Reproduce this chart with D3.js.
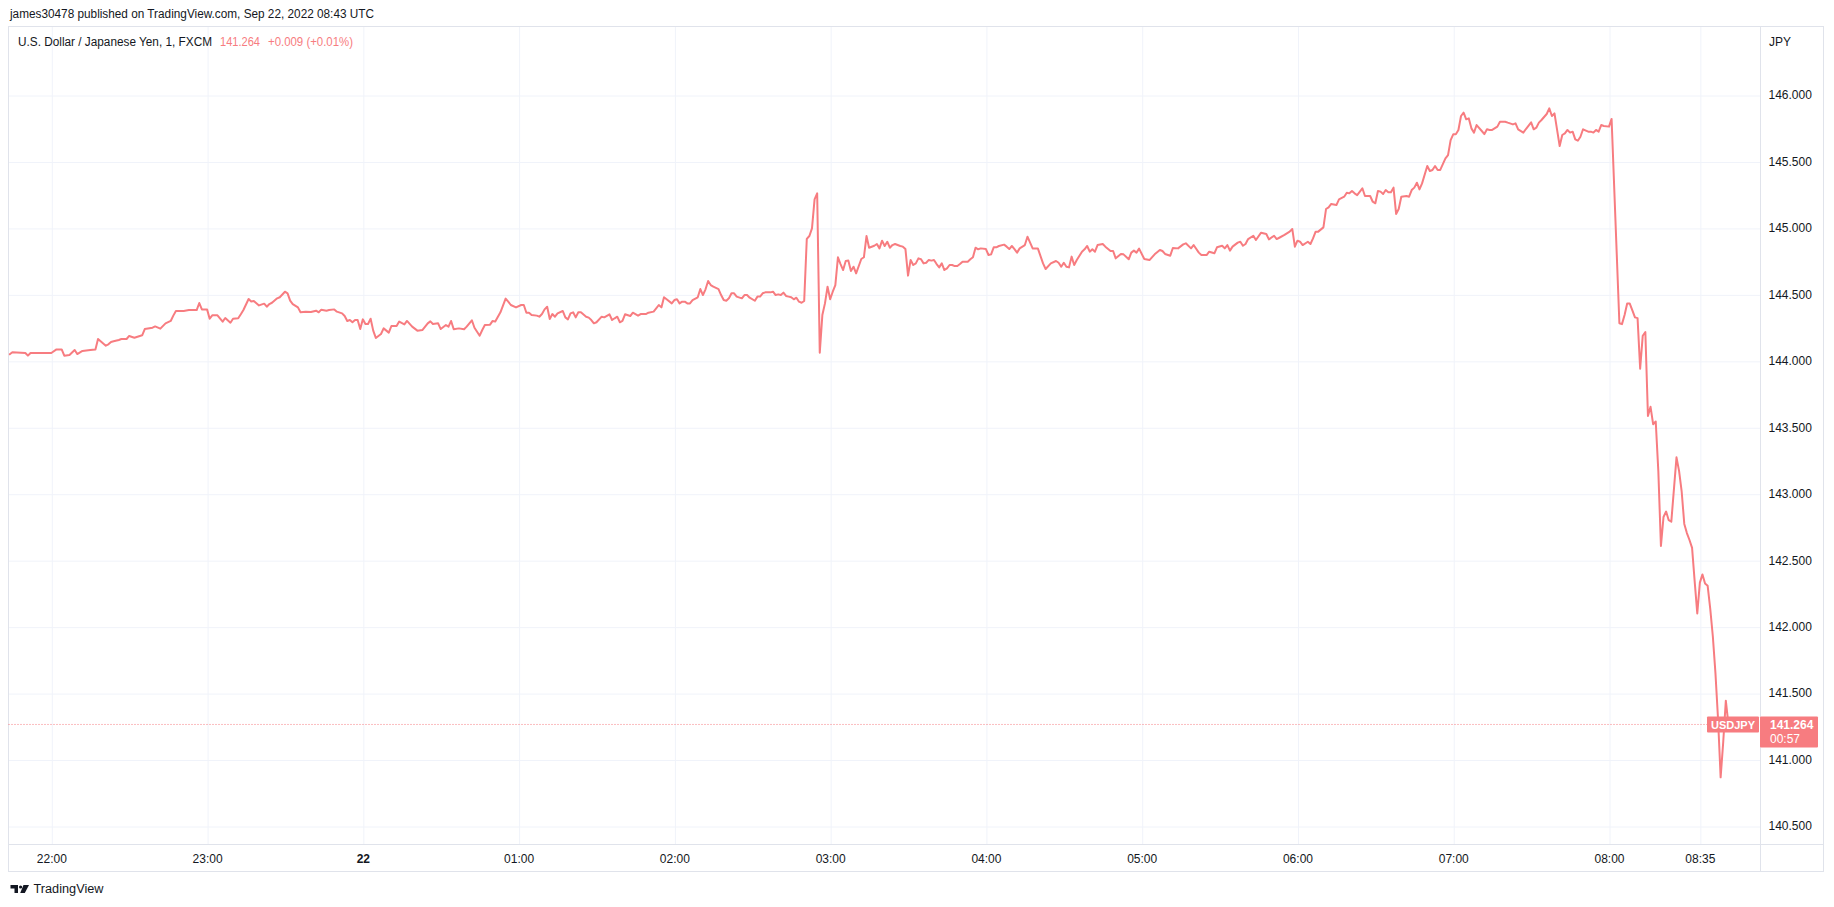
<!DOCTYPE html>
<html><head><meta charset="utf-8">
<script src="https://cdn.jsdelivr.net/npm/d3@7"></script>
<style>
html,body{margin:0;padding:0;background:#fff;overflow:hidden;}
svg{display:block;font-family:"Liberation Sans",Arial,sans-serif;}
</style>
</head><body>
<svg id="chart" width="1834" height="907"></svg>
<script>
// minutes after 21 Sep 2022 22:00 UTC (1-minute chart, sampled)
const timeMin = [
-16,-15,-10,-9,-8,0,2,4,5,7,9,10,12,15,17,18,21,22,23,24,26,27,29,30,32,35,36,39,40,42,44,46,47,48,51,53,56,57,58,60,
61,62,64,66,67,69,70,72,73,74,76,77,78,80,82,83,84,85,87,88,90,91,92,93,95,96,98,100,102,103,104,106,107,109,110,112,113,114,115,116,
117,118,119,120,121,122,123,124,125,127,128,130,131,133,134,136,137,139,141,143,145,146,147,149,150,152,153,154,155,157,159,160,162,163,165,166,167,169,170,171,
173,175,176,177,179,181,182,183,184,185,187,188,189,190,191,192,193,194,195,197,198,199,200,201,202,203,204,206,207,208,209,210,212,213,215,216,217,218,219,220,
221,223,224,226,227,229,230,232,233,234,235,236,237,239,240,241,242,243,244,245,246,247,249,250,251,252,253,254,255,257,258,259,260,261,262,263,264,266,267,268,
269,271,272,273,274,275,277,278,279,280,281,282,283,284,285,286,287,288,289,290,291,292,293,294,295,296,297,298,299,300,301,302,303,304,305,306,307,308,309,310,
312,313,314,315,317,318,319,320,321,322,323,324,325,327,328,329,330,331,332,333,334,335,336,337,338,339,340,341,342,343,344,345,346,347,348,349,350,351,353,354,
355,356,357,358,360,361,362,363,364,365,367,368,369,370,371,372,
373,375,376,378,380,382,383,385,387,388,389,390,391,392,393,394,395,397,398,399,400,401,402,403,405,406,408,409,410,412,413,415,416,417,418,419,421,423,425,427,
428,429,431,432,434,436,437,439,440,442,443,445,446,448,449,451,452,453,454,455,457,458,459,460,461,463,464,466,468,469,471,472,473,475,477,478,479,480,481,482,
484,485,486,487,488,490,491,492,493,495,496,498,499,500,501,502,503,505,506,508,509,510,511,512,513,514,515,516,517,518,519,520,522,523,524,525,526,527,528,530,
531,532,533,534,535,537,538,539,540,541,542,543,544,545,546,547,548,549,551,552,553,554,555,557,558,559,560,561,563,564,565,567,568,570,571,572,573,574,576,577,
578,579,581,582,583,584,585,586,587,588,589,590,592,593,594,595,596,597,598,600,601,
604,605,606,607,608,609,610,611,612,613,614,615,616,617,618,619,620,621,622,623,624,626,627,628,629,630,631,632,633,634,635,636,637,638,639,640,641,642,643,644,645,646
];
const price = [
144.049,144.064,144.059,144.039,144.059,144.059,144.086,144.086,144.039,144.044,144.081,144.051,144.074,144.081,144.086,144.164,144.114,144.124,144.142,144.147,144.157,144.164,144.164,144.187,144.174,144.192,144.239,144.249,144.259,144.242,144.282,144.300,144.340,144.375,144.375,144.382,144.382,144.435,144.387,144.387,
144.317,144.342,144.342,144.295,144.322,144.287,144.317,144.320,144.350,144.382,144.465,144.447,144.450,144.417,144.430,144.407,144.427,144.437,144.470,144.478,144.520,144.508,144.453,144.427,144.402,144.365,144.370,144.367,144.377,144.365,144.385,144.377,144.382,144.387,144.370,144.357,144.337,144.300,144.307,144.290,
144.307,144.307,144.239,144.312,144.277,144.277,144.317,144.227,144.172,144.202,144.244,144.212,144.262,144.262,144.295,144.274,144.300,144.257,144.227,144.232,144.282,144.297,144.277,144.282,144.239,144.269,144.257,144.300,144.237,144.244,144.237,144.257,144.305,144.249,144.189,144.232,144.269,144.272,144.300,144.295,
144.365,144.468,144.445,144.420,144.402,144.420,144.420,144.362,144.362,144.345,144.340,144.332,144.352,144.387,144.407,144.315,144.352,144.332,144.357,144.375,144.327,144.312,144.357,144.365,144.327,144.365,144.365,144.332,144.325,144.307,144.282,144.290,144.332,144.327,144.350,144.307,144.320,144.332,144.290,144.300,
144.350,144.337,144.362,144.340,144.352,144.352,144.362,144.370,144.395,144.420,144.402,144.478,144.463,144.432,144.457,144.463,144.432,144.445,144.445,144.432,144.432,144.457,144.478,144.540,144.495,144.538,144.600,144.570,144.558,144.540,144.495,144.457,144.452,144.470,144.508,144.508,144.483,144.470,144.495,144.495,
144.475,144.452,144.483,144.483,144.508,144.515,144.515,144.520,144.495,144.500,144.495,144.513,144.488,144.483,144.478,144.463,144.475,144.445,144.437,144.450,144.917,144.939,144.997,145.215,145.260,144.061,144.345,144.432,144.558,144.463,144.520,144.570,144.779,144.728,144.683,144.751,144.754,144.676,144.708,144.658,
144.766,144.779,144.939,144.851,144.866,144.879,144.846,144.904,144.864,144.896,144.851,144.871,144.879,144.864,144.859,144.841,144.641,144.759,144.721,144.733,144.771,144.764,144.733,144.738,144.759,144.754,144.759,144.728,144.703,144.733,144.683,144.696,144.721,144.721,144.713,144.713,144.728,144.746,144.746,144.764,
144.779,144.851,144.839,144.846,144.841,144.796,144.801,144.854,144.854,144.864,144.874,144.859,144.841,144.864,144.841,144.814,
144.846,144.871,144.934,144.846,144.846,144.733,144.691,144.733,144.751,144.738,144.708,144.738,144.708,144.703,144.784,144.721,144.758,144.821,144.839,144.864,144.821,144.839,144.821,144.871,144.879,144.859,144.826,144.826,144.771,144.804,144.801,144.764,144.814,144.829,144.814,144.844,144.766,144.758,144.801,144.834,
144.826,144.804,144.791,144.849,144.846,144.876,144.884,144.846,144.871,144.814,144.796,144.796,144.821,144.809,144.854,144.866,144.846,144.871,144.829,144.859,144.889,144.896,144.866,144.879,144.916,144.941,144.909,144.964,144.954,144.914,144.941,144.916,144.926,144.947,144.972,144.992,144.859,144.904,144.896,144.871,
144.896,144.879,144.921,144.972,144.972,145.004,145.142,145.155,145.180,145.172,145.215,145.235,145.265,145.260,145.278,145.260,145.247,145.298,145.240,145.240,145.197,145.185,145.278,145.273,145.255,145.285,145.268,145.268,145.303,145.105,145.142,145.235,145.240,145.235,145.285,145.303,145.340,145.290,145.335,145.466,
145.428,145.436,145.466,145.436,145.436,145.523,145.548,145.661,145.704,145.704,145.737,145.842,145.867,145.817,145.824,145.749,145.717,145.774,145.729,145.706,145.742,145.737,145.737,145.762,145.799,145.799,145.799,145.792,145.779,145.787,145.742,145.717,145.744,145.794,145.742,145.754,145.792,145.812,145.857,145.900,
145.842,145.862,145.616,145.699,145.711,145.737,145.717,145.724,145.666,145.656,145.686,145.742,145.724,145.724,145.717,145.737,145.724,145.774,145.767,145.762,145.820,
144.283,144.276,144.345,144.431,144.431,144.379,144.327,144.321,143.941,144.189,144.217,143.585,143.654,143.523,143.543,143.170,142.607,142.825,142.866,142.801,142.790,143.274,143.170,143.015,142.773,142.704,142.652,142.593,142.341,142.099,142.331,142.393,142.324,142.307,142.134,141.926,141.650,141.305,140.866,141.132,141.443,141.264
];
const timeTickMin = [0,60,120,180,240,300,360,420,480,540,600,635];
const timeTickLabels = ["22:00","23:00","22","01:00","02:00","03:00","04:00","05:00","06:00","07:00","08:00","08:35"];
const priceTicks = [140.5,141,141.5,142,142.5,143,143.5,144,144.5,145,145.5,146];
const headerText = "james30478 published on TradingView.com, Sep 22, 2022 08:43 UTC";
const legendTitle = "U.S. Dollar / Japanese Yen, 1, FXCM";
const lastPrice = 141.264;
const lastChange = "+0.009 (+0.01%)";
const symbol = "USDJPY";
const countdown = "00:57";
const currency = "JPY";

const RED = "#f77c80", TXT = "#131722", GRID = "#f0f3fa", BORDER = "#e0e3eb";
const L = 8.5, R = 1760.5, T = 26.5, B = 844.5, RR = 1823.5, BB = 871.5;

const svg = d3.select("#chart");
const base = Date.UTC(2022, 8, 21, 22, 0);
const toDate = m => new Date(base + m * 60000);
const data = timeMin.map((m, i) => ({t: toDate(m), p: price[i]}));

const x = d3.scaleUtc().domain([toDate(0), toDate(600)]).range([51.3, 1609]);
const y = d3.scaleLinear().domain([140.5, 146]).range([826, 95]);

svg.append("rect").attr("width", 1834).attr("height", 907).attr("fill", "#fff");

// grid
const gx = svg.append("g").attr("transform", `translate(0,${B})`)
  .call(d3.axisBottom(x).tickValues(timeTickMin.map(toDate)).tickSize(-(B - T)).tickFormat(""));
gx.select(".domain").remove();
gx.selectAll("line").attr("stroke", GRID).attr("stroke-width", 1)
  .attr("transform", "translate(0.5,0)");
const gy = svg.append("g").attr("transform", `translate(${L},0)`)
  .call(d3.axisRight(y).tickValues(priceTicks).tickSize(R - L).tickFormat(""));
gy.select(".domain").remove();
gy.selectAll("line").attr("stroke", GRID).attr("stroke-width", 1)
  .attr("transform", "translate(0,0.5)");

// frame
const fr = svg.append("g").attr("fill", "none").attr("stroke", BORDER).attr("stroke-width", 1);
fr.append("rect").attr("x", L).attr("y", T).attr("width", RR - L).attr("height", BB - T);
fr.append("line").attr("x1", R).attr("x2", R).attr("y1", T).attr("y2", BB);
fr.append("line").attr("x1", L).attr("x2", RR).attr("y1", B).attr("y2", B);

// clip
svg.append("clipPath").attr("id", "plot").append("rect")
  .attr("x", L).attr("y", T).attr("width", R - L).attr("height", B - T);

// last price dotted line
svg.append("line").attr("x1", L).attr("x2", 1707).attr("y1", y(lastPrice)).attr("y2", y(lastPrice))
  .attr("stroke", RED).attr("stroke-width", 1).attr("stroke-dasharray", "1,2");

// price line
svg.append("path").datum(data).attr("clip-path", "url(#plot)")
  .attr("fill", "none").attr("stroke", RED).attr("stroke-width", 2)
  .attr("stroke-linejoin", "round").attr("stroke-linecap", "round")
  .attr("d", d3.line().x(d => x(d.t)).y(d => y(d.p)));

// time axis labels
const ax = svg.append("g").attr("transform", `translate(0,${B})`)
  .call(d3.axisBottom(x).tickValues(timeTickMin.map(toDate)).tickSize(0).tickPadding(0)
    .tickFormat((d, i) => timeTickLabels[i]));
ax.select(".domain").remove();
ax.selectAll("text").attr("fill", TXT).attr("font-size", 12).attr("dy", null).attr("y", 18)
  .attr("font-family", '"Liberation Sans",Arial,sans-serif')
  .attr("font-weight", (d, i) => timeTickLabels[i] === "22" ? "bold" : null);

// price axis labels
const ay = svg.append("g").attr("transform", `translate(${R},0)`)
  .call(d3.axisRight(y).tickValues(priceTicks).tickSize(0).tickPadding(8).tickFormat(d3.format(".3f")));
ay.select(".domain").remove();
ay.selectAll("text").attr("fill", TXT).attr("font-size", 12)
  .attr("font-family", '"Liberation Sans",Arial,sans-serif');

svg.append("text").attr("x", 1769).attr("y", 45.5).attr("font-size", 12).attr("fill", TXT).text(currency);

// header
svg.append("text").attr("x", 10).attr("y", 18).attr("font-size", 12.5).attr("fill", TXT)
  .attr("textLength", 364).attr("lengthAdjust", "spacingAndGlyphs").text(headerText);
// legend
svg.append("text").attr("x", 18).attr("y", 45.5).attr("font-size", 12).attr("fill", TXT)
  .attr("textLength", 194).attr("lengthAdjust", "spacingAndGlyphs").text(legendTitle);
svg.append("text").attr("x", 220).attr("y", 45.5).attr("font-size", 12).attr("fill", RED)
  .attr("textLength", 40).attr("lengthAdjust", "spacingAndGlyphs").text(d3.format(".3f")(lastPrice));
svg.append("text").attr("x", 268).attr("y", 45.5).attr("font-size", 12).attr("fill", RED)
  .attr("textLength", 85).attr("lengthAdjust", "spacingAndGlyphs").text(lastChange);

// symbol label
const yl = y(lastPrice);
svg.append("rect").attr("x", 1707).attr("y", yl - 8).attr("width", 52).attr("height", 16)
  .attr("rx", 1).attr("fill", RED);
svg.append("text").attr("x", 1733).attr("y", yl + 4.2).attr("text-anchor", "middle")
  .attr("font-size", 11).attr("font-weight", "bold").attr("fill", "#fff").text(symbol);
// price box
svg.append("rect").attr("x", 1760).attr("y", yl - 8).attr("width", 58).attr("height", 31)
  .attr("rx", 1).attr("fill", RED);
svg.append("text").attr("x", 1770).attr("y", yl + 5).attr("font-size", 12).attr("font-weight", "bold")
  .attr("fill", "#fff").text(d3.format(".3f")(lastPrice));
svg.append("text").attr("x", 1770).attr("y", yl + 19).attr("font-size", 12)
  .attr("fill", "#fff").text(countdown);

// TradingView logo
const lg = svg.append("g").attr("fill", TXT);
lg.append("path").attr("d", "M10.5,885h7.5v8h-3.5v-4.6h-4z");
lg.append("circle").attr("cx", 20.6).attr("cy", 887).attr("r", 1.6);
lg.append("path").attr("d", "M23.5,885h5.5l-4.2,8h-4.6z");
svg.append("text").attr("x", 33.5).attr("y", 893).attr("font-size", 12.5).attr("fill", TXT)
  .attr("textLength", 70).attr("lengthAdjust", "spacingAndGlyphs").text("TradingView");
</script>
</body></html>
